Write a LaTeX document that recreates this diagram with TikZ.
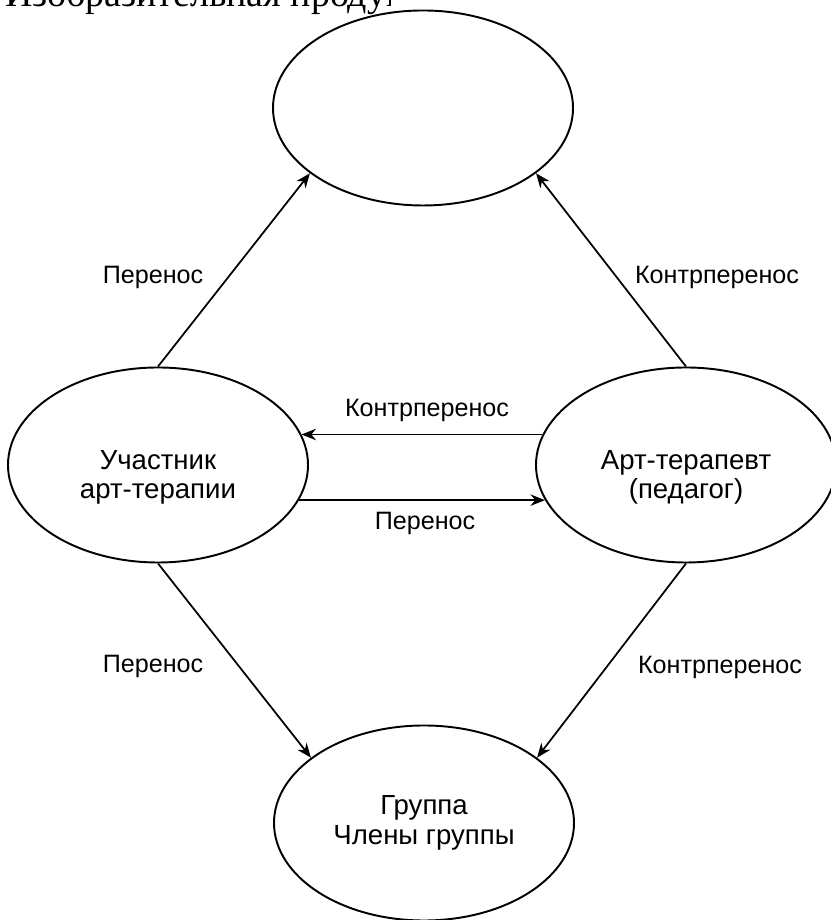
\documentclass[tikz,border=0pt]{standalone}
\usepackage{fontspec}
\setmainfont{Liberation Sans}
\newfontfamily\captionserif{Liberation Serif}
\usetikzlibrary{shapes.geometric, arrows.meta}

\begin{document}
\begin{tikzpicture}[
  every node/.style={anchor=center, align=center, font=\fontsize{14.3}{17}\selectfont},
  bubble/.style={draw, ellipse, line width=1.1pt, minimum width=6cm, minimum height=3.9cm, inner sep=0pt, font=\fontsize{15.7}{17}\selectfont},
  lowtext/.style={text height=1.5cm, text depth=0.14cm},
  link/.style={draw, line width=1pt, -{Stealth[length=2.9mm, width=2.3mm]}}
]
  \useasboundingbox (0,0) rectangle (16.6,18.4);

  % caption line above the picture, cut off by the page
  \begin{scope}
    \clip (0,17.8) rectangle (7.8,18.4);
    \node[anchor=base west, inner sep=0pt, font=\captionserif\fontsize{21.6}{26}\selectfont] (caption) at (0.1,18.26) {Изобразительная продукция};
  \end{scope}

  \node[bubble] (work) at (8.46,16.24) {};
  \node[bubble, lowtext] (participant) at (3.16,9.10) {Участник\\арт-терапии};
  \node[bubble, lowtext] (therapist) at (13.72,9.10) {Арт-терапевт\\(педагог)};
  \node[bubble] (group) at (8.48,1.94) {Группа\\Члены группы};

  \node (tlabel1) at (3.06,12.86) {Перенос};
  \node (clabel1) at (14.34,12.86) {Контрперенос};
  \node (clabel2) at (8.54,10.20) {Контрперенос};
  \node (tlabel2) at (8.50,7.94) {Перенос};
  \node (tlabel3) at (3.06,5.08) {Перенос};
  \node (clabel3) at (14.40,5.06) {Контрперенос};

  \path[link] (participant.north) -- (work.210);
  \path[link] (therapist.north) -- (work.330);
  \path[link] (therapist.168) -- (participant.12);
  \path[link] (participant.346) -- (therapist.194);
  \path[link] (participant.south) -- (group.150);
  \path[link] (therapist.south) -- (group.30);
\end{tikzpicture}
\end{document}
